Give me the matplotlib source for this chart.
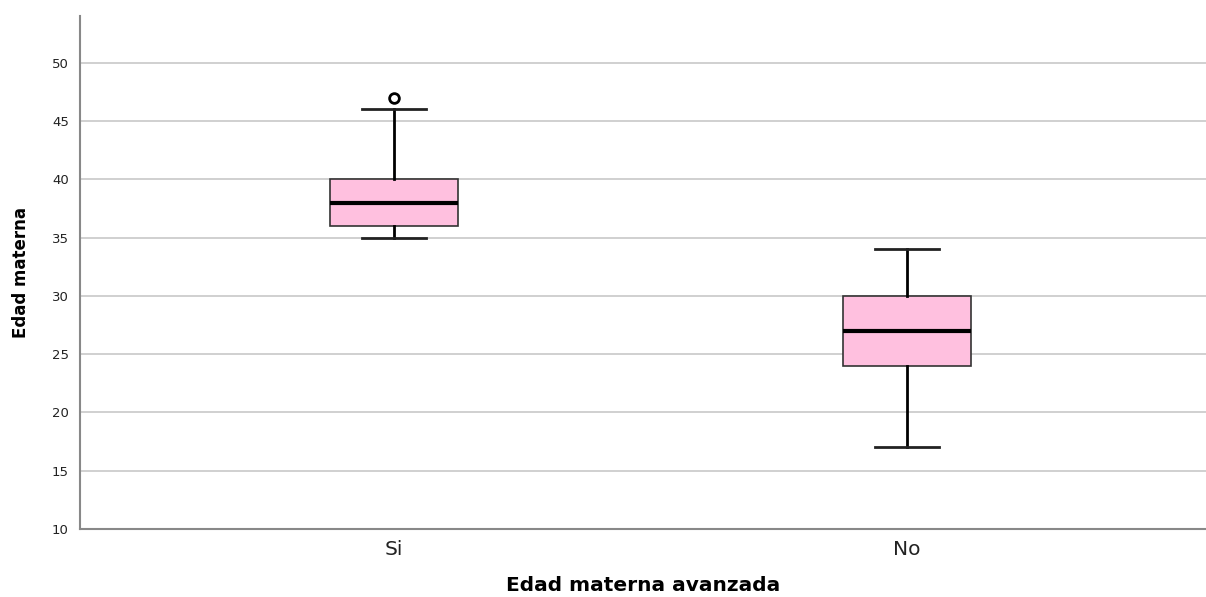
import numpy as np
import matplotlib.pyplot as plt

# box statistics
groups = ['Si', 'No']
whislo = [35, 17]
q1 = [36, 24]
med = [38, 27]
q3 = [40, 30]
whishi = [46, 34]
outliers = [[47], []]

stats = []
for i in range(len(groups)):
    stats.append({'label': groups[i], 'whislo': whislo[i], 'q1': q1[i], 'med': med[i],
                  'q3': q3[i], 'whishi': whishi[i], 'fliers': outliers[i]})

fig = plt.figure(figsize=(12.06, 5.97), dpi=100)
ax = fig.add_axes([0.0663, 0.1139, 0.9337, 0.8593])

ax.bxp(stats, positions=[1, 2], widths=0.25, patch_artist=True,
       boxprops=dict(facecolor='#ffc0df', edgecolor='#333333', linewidth=1.2),
       medianprops=dict(color='black', linewidth=3),
       whiskerprops=dict(color='black', linewidth=2),
       capprops=dict(color='#222222', linewidth=2),
       capwidths=0.125,
       flierprops=dict(marker='o', markersize=7, markerfacecolor='white',
                       markeredgecolor='black', markeredgewidth=2))

ax.set_xlim(0.388, 2.583)
ax.set_ylim(10, 54)
ax.set_yticks(np.arange(10, 51, 5))
ax.yaxis.grid(True, color='#c8c8c8', linewidth=1.2)
ax.set_axisbelow(True)
ax.tick_params(axis='y', length=0, labelsize=9.5, colors='#222222', pad=8)
ax.tick_params(axis='x', length=0, labelsize=14.5, colors='#222222', pad=8)

for s in ['top', 'right']:
    ax.spines[s].set_visible(False)
for s in ['left', 'bottom']:
    ax.spines[s].set_color('#888888')
    ax.spines[s].set_linewidth(1.5)

ax.set_ylabel('Edad materna', fontsize=12, fontweight='bold', labelpad=16)
ax.set_xlabel('Edad materna avanzada', fontsize=14.5, fontweight='bold', labelpad=12)

plt.savefig('out.png', dpi=100)
